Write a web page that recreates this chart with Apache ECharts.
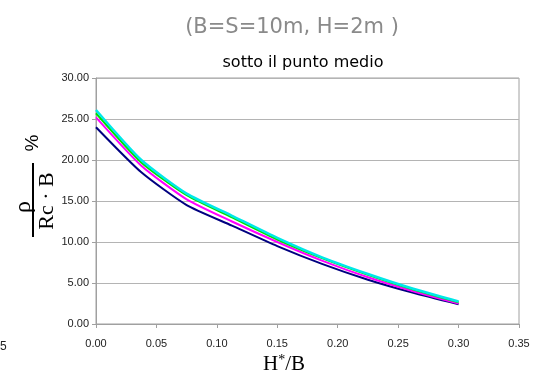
<!DOCTYPE html>
<html>
<head>
<meta charset="utf-8">
<script src="https://cdn.jsdelivr.net/npm/echarts@6/dist/echarts.min.js"></script>
<style>
html,body{margin:0;padding:0;background:#fff;}
#chart{width:543px;height:382px;}
</style>
</head>
<body>
<div id="chart"></div>
<script>
var xValues = [0, 0.0375, 0.075, 0.1125, 0.15, 0.1875, 0.225, 0.2625, 0.30];
var navySeries    = [24.0, 18.5, 14.5, 12.0, 9.5, 7.3, 5.4, 3.8, 2.4];
var magentaSeries = [25.2, 19.3, 15.2, 12.5, 10.0, 7.7, 5.7, 4.0, 2.5];
var greenSeries   = [25.7, 19.7, 15.7, 13.0, 10.3, 8.0, 6.0, 4.2, 2.65];
var cyanSeries    = [26.1, 20.0, 15.9, 13.2, 10.5, 8.1, 6.1, 4.3, 2.75];
var titleText = '(B=S=10m, H=2m )';
var subtitleText = 'sotto il punto medio';

function pairs(ys){ return xValues.map(function(x,i){ return [x, ys[i]]; }); }

var chart = echarts.init(document.getElementById('chart'), null, {renderer:'canvas'});
var labelFont = {fontFamily:'Liberation Sans', fontSize:11, color:'#222'};
chart.setOption({
  animation:false,
  backgroundColor:'#fff',
  grid:{left:96, right:24, top:78, bottom:58, show:true, borderColor:'#a0a0a0', borderWidth:1},
  xAxis:{
    type:'value', min:0, max:0.35, interval:0.05,
    axisLine:{show:true, lineStyle:{color:'#a0a0a0', width:1}},
    axisTick:{show:true, inside:false, length:4, lineStyle:{color:'#a0a0a0'}},
    splitLine:{show:false},
    axisLabel:Object.assign({margin:14, formatter:function(v){return v.toFixed(2);}}, labelFont)
  },
  yAxis:{
    type:'value', min:0, max:30, interval:5,
    axisLine:{show:true, lineStyle:{color:'#a0a0a0', width:1}},
    axisTick:{show:true, inside:false, length:4, lineStyle:{color:'#a0a0a0'}},
    splitLine:{show:true, lineStyle:{color:'#b4b4b4', width:1}},
    axisLabel:Object.assign({margin:7, formatter:function(v){return v.toFixed(2);}}, labelFont)
  },
  series:[
    {type:'line', data:pairs(navySeries), smooth:0.2, showSymbol:false, lineStyle:{color:'#000080', width:2}, itemStyle:{color:'#000080'}},
    {type:'line', data:pairs(magentaSeries), smooth:0.2, showSymbol:false, lineStyle:{color:'#ff00ff', width:2}, itemStyle:{color:'#ff00ff'}},
    {type:'line', data:pairs(greenSeries), smooth:0.2, showSymbol:false, lineStyle:{color:'#00e000', width:2}, itemStyle:{color:'#00e000'}},
    {type:'line', data:pairs(cyanSeries), smooth:0.2, showSymbol:false, lineStyle:{color:'#00e8e8', width:2.5}, itemStyle:{color:'#00e8e8'}}
  ],
  graphic:[
    {type:'text', x:292, y:28, style:{text:titleText, fill:'#8a8a8a', font:'21px "DejaVu Sans"', textAlign:'center', textVerticalAlign:'middle'}},
    {type:'text', x:303, y:63, style:{text:subtitleText, fill:'#000', font:'16px "DejaVu Sans"', textAlign:'center', textVerticalAlign:'middle'}},
    {type:'text', x:284, y:364, style:{
      text:'H{s|*}/B', fill:'#000', font:'21px "Liberation Serif"', textAlign:'center', textVerticalAlign:'middle',
      rich:{s:{fontSize:14, fontFamily:'Liberation Serif', verticalAlign:'top', padding:[0,0,8,0], fill:'#000'}}
    }},
    {type:'text', x:24, y:207, rotation:Math.PI/2, style:{text:'\u03c1', fill:'#000', font:'24px "Liberation Serif"', textAlign:'center', textVerticalAlign:'middle'}},
    {type:'rect', shape:{x:32, y:163, width:2, height:74}, style:{fill:'#000'}},
    {type:'text', x:47, y:201, rotation:Math.PI/2, style:{text:'Rc \u00b7 B', fill:'#000', font:'22px "Liberation Serif"', textAlign:'center', textVerticalAlign:'middle'}},
    {type:'text', x:33, y:143, rotation:Math.PI/2, style:{text:'%', fill:'#000', font:'19px "Liberation Sans"', textAlign:'center', textVerticalAlign:'middle'}},
    {type:'text', x:0, y:347, style:{text:'5', fill:'#222', font:'12px "Liberation Sans"', textAlign:'left', textVerticalAlign:'middle'}}
  ]
});
</script>
</body>
</html>
